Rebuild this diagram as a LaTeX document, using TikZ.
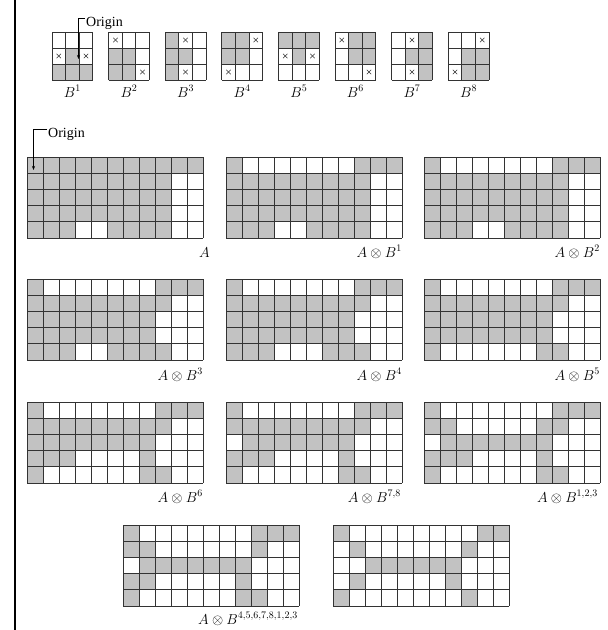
\documentclass[tikz,border=0pt]{standalone}
\usepackage{fontspec}
\setmainfont{Liberation Serif}
\usetikzlibrary{arrows.meta}

\tikzset{
  cellfill/.style={fill=black!24},
  gridline/.style={black!80, line width=0.85pt},
  crossmark/.style={black!80, line width=0.55pt},
  imglabel/.style={anchor=base east, inner sep=0pt, font=\fontsize{14}{16}\selectfont},
  selabel/.style={anchor=base, inner sep=0pt, font=\fontsize{14}{16}\selectfont},
  orglabel/.style={anchor=base west, inner sep=0pt, font=\fontsize{14}{16}\selectfont},
  leader/.style={black, line width=0.6pt, -{Stealth[length=4pt,width=3pt]}},
}

% 11x5 image: #1,#2 top left corner, #3 filled spans row/first/last
\newcommand{\imggrid}[3]{%
  \foreach \rr/\ca/\cb in {#3}
    \fill[cellfill] ({#1+(\ca-1)*16},{#2+(\rr-1)*16.2}) rectangle ({#1+\cb*16},{#2+\rr*16.2});
  \foreach \i in {0,...,11}
    \draw[gridline] ({#1+\i*16},#2) -- ({#1+\i*16},{#2+81});
  \foreach \j in {0,...,5}
    \draw[gridline] (#1,{#2+\j*16.2}) -- ({#1+176},{#2+\j*16.2});
}

% 3x3 structuring element: #1,#2 top left, #3 gray cells, #4 crossed cells (row/col)
\newcommand{\segrid}[4]{%
  \foreach \rr/\cc in {#3}
    \fill[cellfill] ({#1+(\cc-1)*13.6},{#2+(\rr-1)*16}) rectangle ++(13.6,16);
  \foreach \rr/\cc in {#4} {
    \draw[crossmark] ({#1+(\cc-0.5)*13.6-2.2},{#2+(\rr-0.5)*16-2.2}) -- ++(4.4,4.4);
    \draw[crossmark] ({#1+(\cc-0.5)*13.6-2.2},{#2+(\rr-0.5)*16+2.2}) -- ++(4.4,-4.4);
  }
  \foreach \i in {0,...,3} {
    \draw[gridline] ({#1+\i*13.6},#2) -- ({#1+\i*13.6},{#2+48});
    \draw[gridline] (#1,{#2+\i*16}) -- ({#1+40.8},{#2+\i*16});
  }
}

\begin{document}
\begin{tikzpicture}[x=1pt,y=-1pt]
  \useasboundingbox (0,0) rectangle (608,630);
  \fill[white] (0,0) rectangle (608,630);
  % Rule at left
  \draw[black, line width=1.4pt] (15,0) -- (15,630);

  % Structuring elements
  \segrid{52}{32}{3/1,3/2,3/3,2/2}{2/1,2/3}
  \segrid{108.6}{32}{2/1,2/2,3/1,3/2}{1/1,3/3}
  \segrid{165.2}{32}{1/1,2/1,3/1,2/2}{1/2,3/2}
  \segrid{221.8}{32}{1/1,1/2,2/1,2/2}{1/3,3/1}
  \segrid{278.4}{32}{1/1,1/2,1/3,2/2}{2/1,2/3}
  \segrid{335}{32}{1/2,1/3,2/2,2/3}{1/1,3/3}
  \segrid{391.6}{32}{1/3,2/2,2/3,3/3}{1/2,3/2}
  \segrid{448.2}{32}{2/2,2/3,3/2,3/3}{1/3,3/1}
  \foreach \k in {1,...,8}
    \node[selabel] (blab\k) at ({72.4+(\k-1)*56.6},97) {$B^{\k}$};

  % Origin of B^1
  \node[orglabel] (org1) at (86,26) {Origin};
  \coordinate (org1tip) at (78.5,59);
  \draw[leader] (org1.west) ++(-1,-5) -| (org1tip);

  % A and the thinning steps
  \imggrid{27}{157}{1/1/11,2/1/9,3/1/9,4/1/9,5/1/3,5/6/9}
  \imggrid{226}{157}{1/1/1,1/9/11,2/1/9,3/1/9,4/1/9,5/1/3,5/6/9}
  \imggrid{424}{157}{1/1/1,1/9/11,2/1/9,3/1/9,4/1/9,5/1/3,5/6/9}
  \imggrid{27}{279}{1/1/1,1/9/11,2/1/9,3/1/8,4/1/8,5/1/3,5/6/9}
  \imggrid{226}{279}{1/1/1,1/9/11,2/1/9,3/1/8,4/1/8,5/1/3,5/7/9}
  \imggrid{424}{279}{1/1/1,1/9/11,2/1/9,3/1/8,4/1/8,5/1/1,5/8/9}
  \imggrid{27}{402}{1/1/1,1/9/11,2/1/9,3/1/8,4/1/3,4/8/8,5/1/1,5/8/9}
  \imggrid{226}{402}{1/1/1,1/9/11,2/1/9,3/2/8,4/1/3,4/8/8,5/1/1,5/8/9}
  \imggrid{424}{402}{1/1/1,1/9/11,2/1/2,2/8/9,3/2/8,4/1/3,4/8/8,5/1/1,5/8/9}
  \imggrid{123}{525}{1/1/1,1/9/11,2/1/2,2/9/9,3/2/8,4/1/2,4/8/8,5/1/1,5/8/9}
  \imggrid{333}{525}{1/1/1,1/10/11,2/2/2,2/9/9,3/3/8,4/2/2,4/8/8,5/1/1,5/9/9}

  % Origin of A
  \node[orglabel] (org2) at (48,137) {Origin};
  \coordinate (org2tip) at (33.5,170);
  \draw[leader] (org2.west) ++(-1,-5) -| (org2tip);

  % Labels
  \node[imglabel] (labA)  at (210,257) {$A$};
  \node[imglabel] (lab1)  at (402,257) {$A \otimes B^{1}$};
  \node[imglabel] (lab2)  at (600,257) {$A \otimes B^{2}$};
  \node[imglabel] (lab3)  at (203,380) {$A \otimes B^{3}$};
  \node[imglabel] (lab4)  at (402,380) {$A \otimes B^{4}$};
  \node[imglabel] (lab5)  at (600,380) {$A \otimes B^{5}$};
  \node[imglabel] (lab6)  at (203,502) {$A \otimes B^{6}$};
  \node[imglabel] (lab78) at (401,502) {$A \otimes B^{7,8}$};
  \node[imglabel] (lab123) at (598,502) {$A \otimes B^{1,2,3}$};
  \node[imglabel] (labfin) at (298,624) {$A \otimes B^{4,5,6,7,8,1,2,3}$};
\end{tikzpicture}
\end{document}
